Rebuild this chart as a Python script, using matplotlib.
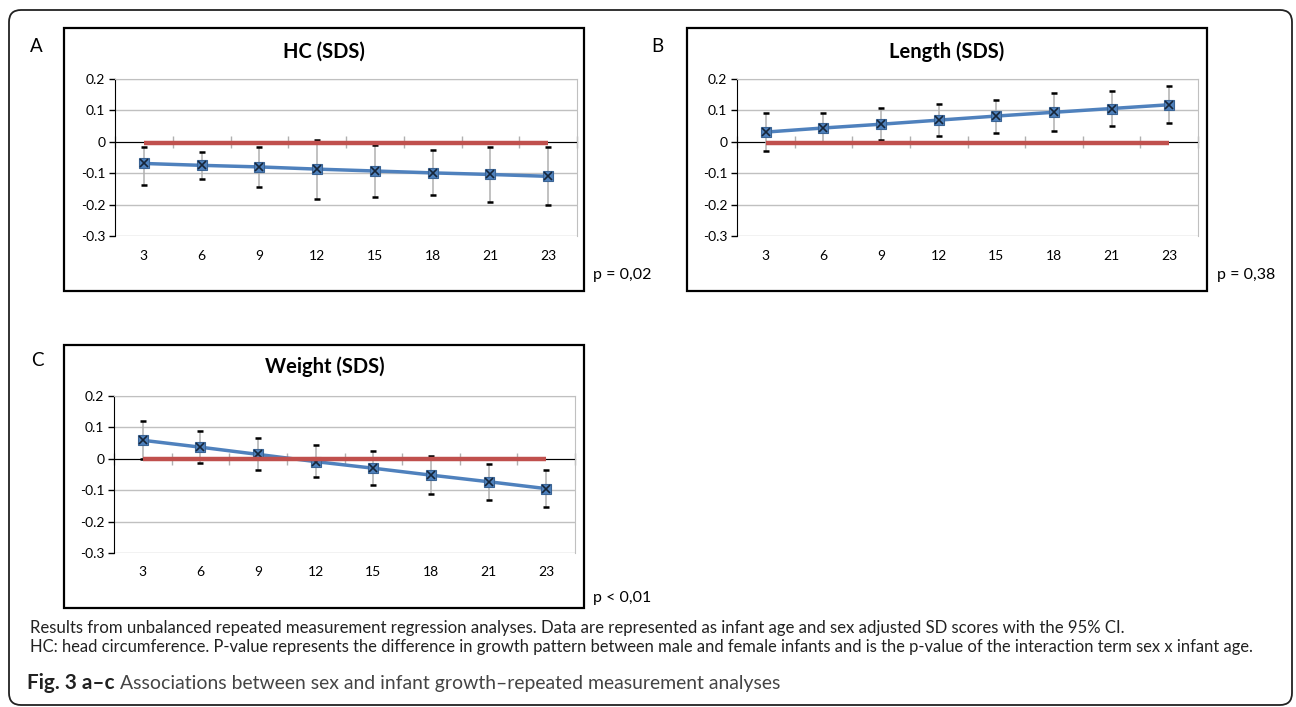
import numpy as np
import matplotlib
matplotlib.use('Agg')
import matplotlib.pyplot as plt
import matplotlib.transforms as mtransforms
from matplotlib.patches import FancyBboxPatch, Rectangle

W, H = 1296, 707
FONT = ['Lato', 'DejaVu Sans']
plt.rcParams['font.family'] = FONT

# data (infant age in months, SDS difference)
ages = ['3', '6', '9', '12', '15', '18', '21', '23']

hc_mean = [-0.069, -0.075, -0.080, -0.087, -0.093, -0.099, -0.104, -0.110]
hc_low = [-0.137, -0.118, -0.143, -0.181, -0.177, -0.168, -0.191, -0.201]
hc_high = [-0.017, -0.032, -0.017, 0.007, -0.010, -0.027, -0.017, -0.017]
hc_ref = [-0.004, -0.004, -0.004, -0.004, -0.004, -0.004, -0.004, -0.004]

len_mean = [0.031, 0.044, 0.056, 0.069, 0.082, 0.094, 0.106, 0.118]
len_low = [-0.028, -0.004, 0.005, 0.018, 0.028, 0.033, 0.051, 0.060]
len_high = [0.091, 0.091, 0.109, 0.120, 0.134, 0.154, 0.163, 0.177]
len_ref = [-0.003, -0.003, -0.003, -0.003, -0.003, -0.003, -0.003, -0.003]

wt_mean = [0.059, 0.037, 0.014, -0.009, -0.030, -0.052, -0.073, -0.095]
wt_low = [0.000, -0.012, -0.037, -0.058, -0.082, -0.112, -0.131, -0.153]
wt_high = [0.119, 0.087, 0.067, 0.044, 0.025, 0.010, -0.015, -0.035]
wt_ref = [0.0, 0.0, 0.0, 0.0, 0.0, 0.0, 0.0, 0.0]

yticks = [0.2, 0.1, 0.0, -0.1, -0.2, -0.3]
ytick_labels = ['0.2', '0.1', '0', '-0.1', '-0.2', '-0.3']

captions = [
    'Results from unbalanced repeated measurement regression analyses. Data are represented as infant age and sex adjusted SD scores with the 95% CI.',
    'HC: head circumference. P-value represents the difference in growth pattern between male and female infants and is the p-value of the interaction term sex x infant age.',
]


def px_rect(l, t, r, b):
    return [l / W, 1 - b / H, (r - l) / W, (b - t) / H]


def fx(px):
    return px / W


def fy(py):
    return 1 - py / H


fig = plt.figure(figsize=(W / 100, H / 100), dpi=100)

# outer rounded frame
frame = FancyBboxPatch((9 / 100, (H - 705) / 100), (1292 - 9) / 100, (705 - 10) / 100,
                       boxstyle='round,pad=0,rounding_size=0.12',
                       transform=fig.dpi_scale_trans, fill=False, ec='#222222', lw=1.3)
fig.add_artist(frame)


def draw_panel(box, area, title, title_xy, mean, low, high, ref, label_y):
    fig.add_artist(Rectangle((fx(box[0]), fy(box[3])), fx(box[2] - box[0]), (box[3] - box[1]) / H,
                             transform=fig.transFigure, fill=False, ec='black', lw=1.6))
    fig.text(fx(title_xy[0]), fy(title_xy[1]), title, ha='center', va='center',
             fontsize=14.5, fontweight='bold')
    ax = fig.add_axes(px_rect(*area))
    x = np.arange(len(ages))
    mean = np.array(mean)
    err = [mean - np.array(low), np.array(high) - mean]
    eb = ax.errorbar(x, mean, yerr=err, fmt='none', ecolor='#B0B0B0', elinewidth=1.1,
                     capsize=2.4, capthick=1.8, zorder=2)
    for cap in eb[1]:
        cap.set_markeredgecolor('black')
        cap.set_color('black')
    ax.plot(x, mean, color='#4F81BD', lw=2.5, zorder=3)
    ax.plot(x, mean, 's', ms=7, mfc='#4F81BD', mec='#3B6494', mew=0.8, zorder=4)
    ax.plot(x, mean, 'x', ms=5.5, mec='#16263A', mew=1.2, zorder=5)
    ax.plot(x, ref, color='#C0504D', lw=3.2, zorder=6, solid_capstyle='butt')

    ax.set_xlim(-0.5, len(ages) - 0.5)
    ax.set_ylim(-0.3, 0.2)
    ax.set_yticks(yticks)
    ax.set_yticklabels(ytick_labels)
    ax.tick_params(axis='y', direction='out', length=4, width=1, color='black',
                   labelsize=10, pad=3)
    ax.yaxis.grid(True, color='#C0C0C0', lw=1)
    ax.set_axisbelow(True)

    ax.spines['bottom'].set_position(('data', 0))
    ax.spines['bottom'].set_color('black')
    ax.spines['bottom'].set_zorder(1)
    ax.spines['left'].set_color('black')
    for s in ('top', 'right'):
        ax.spines[s].set_color('#C0C0C0')
    ax.set_xticks(x)
    ax.set_xticks(np.arange(len(ages) + 1) - 0.5, minor=True)
    ax.tick_params(axis='x', which='major', length=0, labelbottom=False)
    ax.tick_params(axis='x', which='minor', direction='inout', length=9, width=1,
                   color='#B0B0B0')
    ax.patch.set_alpha(0)

    trans = mtransforms.blended_transform_factory(ax.transData, fig.transFigure)
    for i, lab in enumerate(ages):
        ax.text(i, fy(label_y), lab, transform=trans, ha='center', va='center', fontsize=10)
    return ax


draw_panel((64, 28, 584, 291), (115, 79, 577, 236), 'HC (SDS)', (324, 52),
           hc_mean, hc_low, hc_high, hc_ref, 256)
draw_panel((687, 28, 1207, 291), (737, 79, 1198, 236), 'Length (SDS)', (947, 52),
           len_mean, len_low, len_high, len_ref, 256)
draw_panel((64, 345, 584, 608), (114, 396, 575, 553), 'Weight (SDS)', (325, 367),
           wt_mean, wt_low, wt_high, wt_ref, 572)

# panel letters and p-values
fig.text(fx(36), fy(47), 'A', ha='center', va='center', fontsize=13.5)
fig.text(fx(657), fy(47), 'B', ha='center', va='center', fontsize=13.5)
fig.text(fx(37), fy(360), 'C', ha='center', va='center', fontsize=13.5)
fig.text(fx(593), fy(275), 'p = 0,02', ha='left', va='center', fontsize=11.5)
fig.text(fx(1217), fy(275), 'p = 0,38', ha='left', va='center', fontsize=11.5)
fig.text(fx(593), fy(598), 'p < 0,01', ha='left', va='center', fontsize=11.5)

renderer = fig.canvas.get_renderer()


def fit_text(x0, x1, y, s, size, **kw):
    t = fig.text(fx(x0), fy(y), s, ha='left', va='center', fontsize=size, **kw)
    w = t.get_window_extent(renderer).width
    t.set_fontsize(size * (x1 - x0) / w)
    return t


fit_text(30, 1122, 628, captions[0], 10, color='#222222')
fit_text(30, 1257, 647, captions[1], 10, color='#222222')

t1 = fit_text(27, 115, 683, 'Fig. 3 a–c', 14, fontweight='bold', color='#222222')
ext = t1.get_window_extent(renderer)
fit_text(ext.x1 + 5, 780, 683,
         'Associations between sex and infant growth–repeated measurement analyses',
         14, color='#444444')

fig.savefig('out.png', dpi=100)
